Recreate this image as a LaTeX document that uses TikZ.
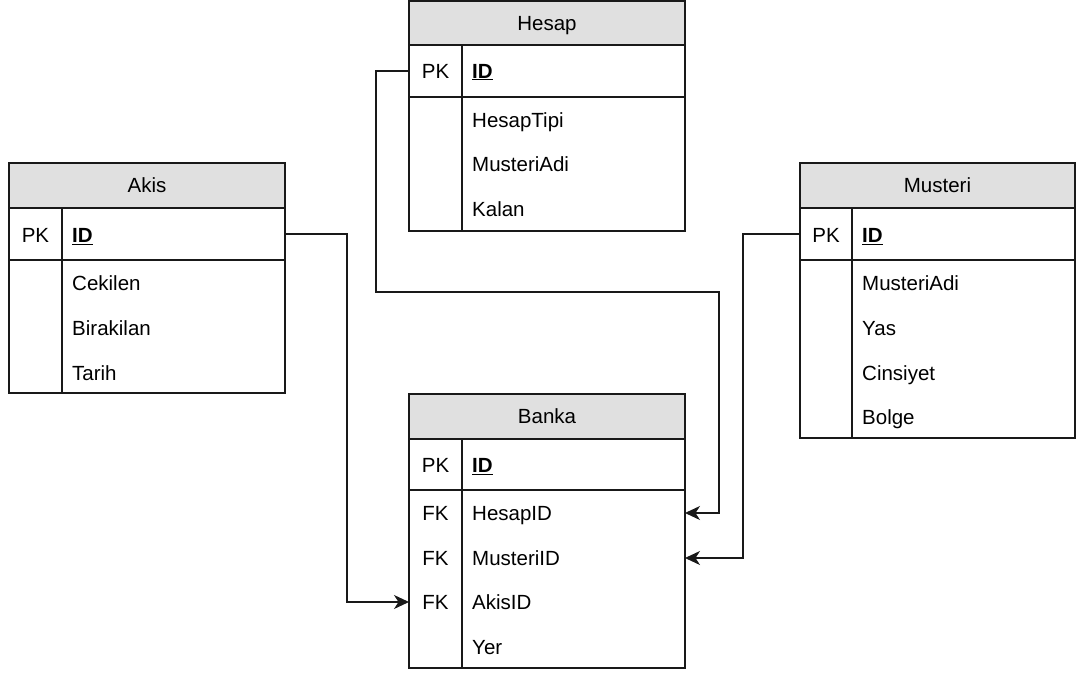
\documentclass[tikz,border=0pt]{standalone}
\usepackage{fontspec}
\setmainfont{Liberation Sans}
\usetikzlibrary{arrows.meta,calc}
\begin{document}
\begin{tikzpicture}[x=1pt,y=-1pt,
  font=\fontsize{20.5}{23}\selectfont,
  capbox/.style={text height=14.6pt,text depth=0pt},
  box/.style={draw=black!90,line width=1.6pt,inner sep=0pt,outer sep=0pt,rectangle},
  hdr/.style={box,capbox,fill=black!12,minimum width=#1},
  part/.style={box,minimum width=#1},
  lbl/.style={capbox,inner sep=0pt,anchor=west},
  key/.style={capbox,inner sep=0pt},
  divline/.style={draw=black!90,line width=1.6pt},
  link/.style={draw=black!90,line width=1.6pt,-{Stealth[length=15pt,width=14pt,inset=4.5pt]}},
]
\useasboundingbox (0,0) rectangle (1077,674);
\newcommand{\pkid}{\textbf{\underline{ID}}}

% ---------- Hesap ----------
\node[part=276,minimum height=134] (hesapBody) at (547,164) {};
\node[part=276,minimum height=52] (hesapPK) at (547,71) {};
\node[hdr=276,minimum height=44] (hesapHead) at (547,23) {Hesap};
\draw[divline] ([xshift=53pt]hesapPK.north west) -- ([xshift=53pt]hesapBody.south west);
\node[key] (hesapPKk) at (435.5,71) {PK};
\node[lbl] (hesapID) at (472,71) {\pkid};
\node[lbl] (hesapF1) at (472,120) {HesapTipi};
\node[lbl] (hesapF2) at (472,164) {MusteriAdi};
\node[lbl] (hesapF3) at (472,209) {Kalan};

% ---------- Akis ----------
\node[part=276,minimum height=133] (akisBody) at (147,326.5) {};
\node[part=276,minimum height=52] (akisPK) at (147,234) {};
\node[hdr=276,minimum height=45] (akisHead) at (147,185.5) {Akis};
\draw[divline] ([xshift=53pt]akisPK.north west) -- ([xshift=53pt]akisBody.south west);
\node[key] (akisPKk) at (35.5,235) {PK};
\node[lbl] (akisID) at (72,235) {\pkid};
\node[lbl] (akisF1) at (72,283) {Cekilen};
\node[lbl] (akisF2) at (72,328) {Birakilan};
\node[lbl] (akisF3) at (72,373) {Tarih};

% ---------- Musteri ----------
\node[part=275,minimum height=178] (mustBody) at (937.5,349) {};
\node[part=275,minimum height=52] (mustPK) at (937.5,234) {};
\node[hdr=275,minimum height=45] (mustHead) at (937.5,185.5) {Musteri};
\draw[divline] ([xshift=52pt]mustPK.north west) -- ([xshift=52pt]mustBody.south west);
\node[key] (mustPKk) at (826,235) {PK};
\node[lbl] (mustID) at (862,235) {\pkid};
\node[lbl] (mustF1) at (862,283) {MusteriAdi};
\node[lbl] (mustF2) at (862,328) {Yas};
\node[lbl] (mustF3) at (862,373) {Cinsiyet};
\node[lbl] (mustF4) at (862,417) {Bolge};

% ---------- Banka ----------
\node[part=276,minimum height=178] (bankaBody) at (547,579) {};
\node[part=276,minimum height=51] (bankaPK) at (547,464.5) {};
\node[hdr=276,minimum height=45] (bankaHead) at (547,416.5) {Banka};
\draw[divline] ([xshift=53pt]bankaPK.north west) -- ([xshift=53pt]bankaBody.south west);
\node[key] (bankaPKk) at (435.5,465) {PK};
\node[lbl] (bankaID) at (472,465) {\pkid};
\node[key] (bankaFK1) at (435.5,513) {FK};
\node[lbl] (bankaHesapID) at (472,513) {HesapID};
\node[key] (bankaFK2) at (435.5,558) {FK};
\node[lbl] (bankaMusteriID) at (472,558) {MusteriID};
\node[key] (bankaFK3) at (435.5,602) {FK};
\node[lbl] (bankaAkisID) at (472,602) {AkisID};
\node[lbl] (bankaYer) at (472,647) {Yer};

% ---------- foreign key links ----------
\draw[link] (hesapPK.west) -| ++(-33,221)
  -| ($(bankaBody.east |- bankaHesapID)+(34,0)$) -- (bankaBody.east |- bankaHesapID);
\draw[link] (mustPK.west) -| ($(bankaBody.east |- bankaMusteriID)+(58,0)$)
  -- (bankaBody.east |- bankaMusteriID);
\draw[link] (akisPK.east) -| ($(bankaBody.west |- bankaAkisID)+(-62,0)$)
  -- (bankaBody.west |- bankaAkisID);
\end{tikzpicture}
\end{document}
